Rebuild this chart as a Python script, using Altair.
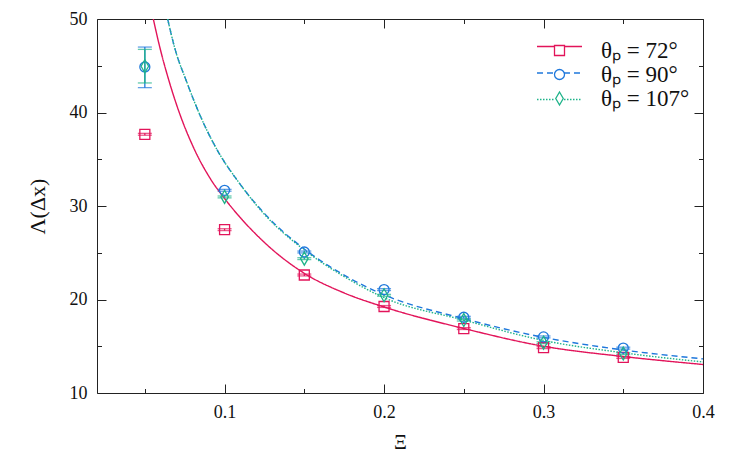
import altair as alt
import pandas as pd

# ---------------- data ----------------
series_names = ["θₚ = 72°", "θₚ = 90°", "θₚ = 107°"]
colors = ["#E2145A", "#1F78DC", "#1FB38A"]
dashes = [[1, 0], [6, 4], [1.5, 1.5]]
shapes = ["square", "circle", "M0,-1.3L0.75,0L0,1.3L-0.75,0Z"]

xi = [0.05, 0.1, 0.15, 0.2, 0.25, 0.3, 0.35]
lam_72 = [37.67, 27.47, 22.62, 19.25, 16.89, 14.85, 13.8]
lam_90 = [44.87, 31.68, 25.08, 21.06, 18.1, 16.0, 14.8]
lam_107 = [44.95, 30.97, 24.37, 20.45, 17.8, 15.38, 14.22]
lo_72 = [37.57, 27.37, 22.52, 19.15, 16.79, 14.75, 13.7]
hi_72 = [37.77, 27.57, 22.72, 19.35, 16.99, 14.95, 13.9]
lo_90 = [42.66, 31.58, 24.98, 20.96, 18.0, 15.9, 14.7]
hi_90 = [47.0, 31.78, 25.18, 21.16, 18.2, 16.1, 14.9]
lo_107 = [43.16, 30.87, 24.27, 20.35, 17.7, 15.28, 14.12]
hi_107 = [46.75, 31.07, 24.47, 20.55, 17.9, 15.48, 14.32]

fit_x_72 = [0.0553, 0.0595, 0.0653, 0.072, 0.0804, 0.0919, 0.1, 0.125, 0.15,
            0.175, 0.2, 0.25, 0.3, 0.35, 0.4]
fit_y_72 = [50, 46.9, 43.3, 39.8, 36.3, 32.7, 30.8, 26.1, 22.8,
            20.7, 19.2, 16.9, 15.0, 13.9, 13.05]
fit_x_90 = [0.0643, 0.0689, 0.0762, 0.0846, 0.095, 0.1086, 0.125, 0.15,
            0.175, 0.2, 0.25, 0.3, 0.35, 0.4]
fit_y_90 = [50, 46.8, 43.3, 39.7, 36.1, 32.6, 29.2, 25.4,
            22.6, 20.5, 17.95, 15.95, 14.6, 13.65]
fit_x_107 = [0.0643, 0.0689, 0.0762, 0.0846, 0.095, 0.1086, 0.125, 0.15,
             0.175, 0.2, 0.25, 0.3, 0.35, 0.4]
fit_y_107 = [50, 46.8, 43.3, 39.7, 36.1, 32.6, 29.1, 25.3,
             22.45, 20.2, 17.8, 15.62, 14.3, 13.32]

x_major = [0.1, 0.2, 0.3, 0.4]
x_minor = [0.05, 0.15, 0.25, 0.35]
y_major = [10, 20, 30, 40, 50]
y_minor = [15, 25, 35, 45]

# ---------------- tables ----------------
pts_rows = []
for name, ys, los, his in zip(series_names, [lam_72, lam_90, lam_107],
                              [lo_72, lo_90, lo_107], [hi_72, hi_90, hi_107]):
    for x, y, lo, hi in zip(xi, ys, los, his):
        pts_rows.append({"x": x, "y": y, "lo": lo, "hi": hi, "series": name})
pts = pd.DataFrame(pts_rows)

fit_rows = []
for name, fx, fy in zip(series_names, [fit_x_72, fit_x_90, fit_x_107],
                        [fit_y_72, fit_y_90, fit_y_107]):
    for x, y in zip(fx, fy):
        fit_rows.append({"x": x, "y": y, "series": name})
fits = pd.DataFrame(fit_rows)

FONT = "Liberation Serif"
xs = alt.Scale(domain=[0.02, 0.4], nice=False, zero=False)
ys = alt.Scale(domain=[10, 50], nice=False, zero=False)
cs = alt.Scale(domain=series_names, range=colors)
ds = alt.Scale(domain=series_names, range=dashes)
ss = alt.Scale(domain=series_names, range=shapes)

common = dict(grid=False, domain=False, tickColor="#222", tickWidth=1,
              labelFont=FONT, labelFontSize=18, labelColor="#111",
              titleFont=FONT, titleFontWeight="normal", titleColor="#111")

ax_b_major = alt.Axis(orient="bottom", values=x_major, format=".1f", offset=-9,
                      tickSize=9, labelPadding=10, labelFlush=False,
                      title="Ξ", titleFontSize=20, titlePadding=11, **common)
ax_b_minor = alt.Axis(orient="bottom", values=x_minor, offset=-4.5, tickSize=4.5,
                      labels=False, title=None, **common)
ax_t_major = alt.Axis(orient="top", values=x_major, offset=-9, tickSize=9,
                      labels=False, title=None, **common)
ax_t_minor = alt.Axis(orient="top", values=x_minor, offset=-4.5, tickSize=4.5,
                      labels=False, title=None, **common)
ax_l_major = alt.Axis(orient="left", values=y_major, format="d", offset=-9,
                      tickSize=9, labelPadding=10, labelFlush=False,
                      title="Λ(Δx)", titleFontSize=22, titlePadding=20, **common)
ax_l_minor = alt.Axis(orient="left", values=y_minor, offset=-4.5, tickSize=4.5,
                      labels=False, title=None, **common)
ax_r_major = alt.Axis(orient="right", values=y_major, offset=-9, tickSize=9,
                      labels=False, title=None, **common)
ax_r_minor = alt.Axis(orient="right", values=y_minor, offset=-4.5, tickSize=4.5,
                      labels=False, title=None, **common)

leg_line = alt.Legend(orient="none", legendX=451, legendY=16, title=None,
                      symbolType="M-4.5,0H-0.9M0.9,0H4.5", symbolSize=100,
                      symbolStrokeWidth=1.4, labelExpr="''", labelFont=FONT,
                      labelFontSize=23, rowPadding=2.5, padding=0)
leg_point = alt.Legend(orient="none", legendX=451, legendY=20, title=None,
                       symbolSize=100, symbolStrokeWidth=1.3,
                       labelFont=FONT, labelFontSize=23,
                       labelColor="#111", labelOffset=30, rowPadding=0, padding=0)

lines = alt.Chart(fits).mark_line(strokeWidth=1.4, clip=True,
                                  interpolate="monotone").encode(
    x=alt.X("x:Q", scale=xs, axis=ax_b_major),
    y=alt.Y("y:Q", scale=ys, axis=ax_l_major),
    color=alt.Color("series:N", scale=cs, legend=leg_line, sort=series_names),
    strokeDash=alt.StrokeDash("series:N", scale=ds, legend=leg_line,
                              sort=series_names),
)

err = alt.Chart(pts).mark_rule(strokeWidth=1.3).encode(
    x=alt.X("x:Q", scale=xs, axis=ax_b_minor),
    y=alt.Y("lo:Q", scale=ys, axis=ax_l_minor),
    y2="hi:Q",
    color=alt.Color("series:N", scale=cs, legend=None),
)

cap_lo = alt.Chart(pts).mark_tick(orient="horizontal", size=14,
                                  thickness=1.3).encode(
    x=alt.X("x:Q", scale=xs, axis=ax_t_major),
    y=alt.Y("lo:Q", scale=ys, axis=ax_r_major),
    color=alt.Color("series:N", scale=cs, legend=None),
)

cap_hi = alt.Chart(pts).mark_tick(orient="horizontal", size=14,
                                  thickness=1.3).encode(
    x=alt.X("x:Q", scale=xs, axis=ax_t_minor),
    y=alt.Y("hi:Q", scale=ys, axis=ax_r_minor),
    color=alt.Color("series:N", scale=cs, legend=None),
)

points = alt.Chart(pts).mark_point(filled=False, size=100, strokeWidth=1.3,
                                   opacity=1).encode(
    x=alt.X("x:Q", scale=xs, axis=None),
    y=alt.Y("y:Q", scale=ys, axis=None),
    color=alt.Color("series:N", scale=cs, legend=leg_point, sort=series_names),
    shape=alt.Shape("series:N", scale=ss, legend=leg_point, sort=series_names),
)

chart = alt.layer(lines, err, cap_lo, cap_hi, points).resolve_axis(
    x="independent", y="independent"
).resolve_legend(
    color="independent", shape="independent", strokeDash="independent"
).properties(
    width=606, height=374,
    autosize=alt.AutoSizeParams(type="none"),
    padding={"left": 89, "top": 11, "right": 37, "bottom": 60},
    background="white",
).configure_view(stroke="#222", strokeWidth=1)

chart.save("out.html", embed_options={"renderer": "svg", "actions": False})
